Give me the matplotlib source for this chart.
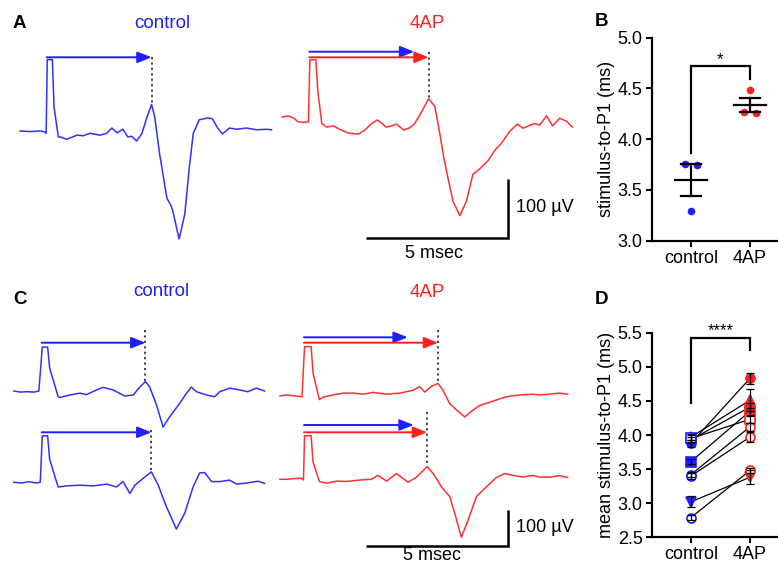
import numpy as np
import matplotlib
matplotlib.use("Agg")
import matplotlib.pyplot as plt

plt.rcParams["font.family"] = ["Liberation Sans", "DejaVu Sans"]

BLUE = "#1f1fff"
RED = "#ff2020"
TRACE_BLUE = "#3030ff"
TRACE_RED = "#ff3030"

# ---- evoked field potentials (ms from stimulus onset, uV from pre-stim baseline)
tA_ctrl = [-0.94, -0.59, -0.24, -0.10, -0.02, 0.02, 0.20, 0.26, 0.41, 0.47, 0.71, 1.07, 1.29, 1.52,
           1.88, 2.11, 2.30, 2.48, 2.69, 2.86, 3.00, 3.17, 3.36, 3.54, 3.70, 3.81, 3.98, 4.24, 4.38,
           4.45, 4.67, 4.87, 5.03, 5.17, 5.38, 5.67, 5.84, 6.03, 6.20, 6.45, 6.70, 7.05, 7.40, 7.75, 7.93]
vA_ctrl = [0, -1, 0, -1, -4, 121, 121, 40, -10, -10, -14, -7, -8, -4, -7, -4, 5, -3, 3, -10, -9,
           -17, -4, 24, 45, 24, -38, -114, -126, -136, -183, -141, -62, -4, 19, 22, 21, 5, -5, 5,
           3, 5, 2, 3, 2]

tA_4ap = [-0.96, -0.75, -0.54, -0.40, -0.19, -0.03, 0.02, 0.23, 0.30, 0.44, 0.61, 0.85, 1.08, 1.37,
          1.73, 1.96, 2.20, 2.39, 2.55, 2.70, 2.90, 3.08, 3.33, 3.55, 3.72, 3.96, 4.21, 4.43, 4.60,
          4.74, 4.89, 5.07, 5.31, 5.54, 5.77, 6.01, 6.30, 6.57, 6.77, 7.07, 7.34, 7.54, 7.77, 7.95,
          8.12, 8.37, 8.58, 8.83, 9.07, 9.28]
vA_4ap = [5, 7, 3, -3, -4, -3, 102, 102, 50, -6, -12, -10, -16, -22, -24, -17, -6, 0, -5, -12, -10,
          -7, -17, -13, -6, 14, 36, 23, -22, -63, -98, -138, -162, -138, -92, -83, -69, -50, -40,
          -19, -7, -14, -9, -6, -9, 7, -10, 3, -2, -12]

tC_ctrl1 = [-0.98, -0.76, -0.52, -0.27, -0.10, 0.02, 0.21, 0.28, 0.58, 0.64, 1.00, 1.35, 1.58, 1.94,
            2.17, 2.52, 2.93, 3.23, 3.46, 3.66, 3.81, 4.05, 4.28, 4.52, 4.87, 5.11, 5.28, 5.46, 5.81,
            6.10, 6.28, 6.63, 6.98, 7.27, 7.57, 7.86]
vC_ctrl1 = [0, -3, -2, -3, 0, 122, 122, 64, -16, -18, -11, -6, -10, 3, 10, 3, -14, -11, 11, 26, 11,
            -39, -100, -71, -34, -6, 11, -2, -11, -16, -2, 8, 3, -2, 8, 0]

tC_ctrl2 = [-0.98, -0.70, -0.45, -0.20, -0.05, 0.02, 0.21, 0.28, 0.58, 0.88, 1.35, 1.82, 2.29, 2.64,
            2.87, 3.11, 3.29, 3.58, 3.87, 4.11, 4.40, 4.75, 5.05, 5.34, 5.57, 5.75, 5.99, 6.28, 6.63,
            6.87, 7.22, 7.63, 7.86]
vC_ctrl2 = [0, -2, 2, -2, 0, 129, 129, 64, -13, -10, -8, -10, -5, -13, 2, -31, -8, 11, 29, -8, -68,
            -130, -85, -13, 26, 27, 2, 2, 6, -5, -2, 3, -3]

tC_4ap1 = [-0.85, -0.61, -0.32, -0.07, 0.02, 0.25, 0.32, 0.54, 0.68, 1.03, 1.38, 1.74, 2.09, 2.44,
           2.91, 3.38, 3.85, 4.08, 4.26, 4.50, 4.73, 4.90, 5.14, 5.38, 5.67, 5.90, 6.20, 6.49, 6.79,
           7.14, 7.61, 8.07, 8.31, 8.66, 9.01, 9.30]
vC_4ap1 = [0, 3, 0, -2, 137, 137, 64, -10, -3, 3, 8, 8, 5, 10, 5, 8, 16, 26, 11, 27, 35, 16, -21,
           -39, -58, -43, -26, -19, -11, -2, 3, 5, 3, 5, 8, 5]

tC_4ap2 = [-0.85, -0.60, -0.35, -0.10, -0.02, 0.02, 0.25, 0.32, 0.54, 0.80, 1.15, 1.50, 1.97, 2.38,
           2.61, 2.91, 3.26, 3.67, 3.97, 4.34, 4.56, 4.85, 5.14, 5.32, 5.55, 5.79, 6.08, 6.43, 6.79,
           7.08, 7.37, 7.72, 8.07, 8.31, 8.66, 9.01, 9.30]
vC_4ap2 = [0, 0, 2, 3, -2, 121, 121, 48, -6, -11, -5, -6, -2, 0, 11, -5, 16, -8, 6, 35, 16, -21,
           -48, -95, -161, -113, -48, -21, 5, 16, 11, 6, 11, 6, 6, 10, 5]

# stimulus-to-P1 latencies (ms) of the example traces
lat_A_ctrl, lat_A_4ap = 3.70, 4.21
lat_C_ctrl = [3.66, 3.87]
lat_C_4ap = [4.73, 4.34]

# ---- panel B: example slices
groups = ["control", "4AP"]
b_ctrl = [3.76, 3.75, 3.29]
b_4ap = [4.27, 4.26, 4.48]
b_jitter = [-0.1, 0.1, 0.0]

# ---- panel D: per-slice mean latency, paired
d_ctrl = [3.88, 3.97, 3.93, 3.61, 3.95, 3.42, 3.40, 3.02, 2.79]
d_4ap = [4.83, 4.51, 4.41, 4.35, 4.23, 4.12, 3.97, 3.38, 3.48]
d_ctrl_sem = [0.05, 0.05, 0.04, 0.04, 0.05, 0.04, 0.04, 0.08, 0.03]
d_4ap_sem = [0.08, 0.16, 0.06, 0.05, 0.05, 0.06, 0.07, 0.10, 0.04]
d_marker = ["o", "^", "D", "s", "s", "o", "o", "v", "o"]
d_filled = [True, True, True, True, False, False, False, True, False]

W, H = 778, 567
MS_PX = 28.35  # px per ms in both trace panels

fig = plt.figure(figsize=(W / 100, H / 100), dpi=100)


def fig_axes(left, top, width, height):
    return fig.add_axes([left / W, 1 - (top + height) / H, width / W, height / H])


def px2data(ax, x, y):
    pt = fig.transFigure.transform((x / W, 1 - y / H))
    return ax.transData.inverted().transform(pt)


def trace_axes(top, height, uv_px):
    ax = fig_axes(0, top, 590, height)
    ax.set_xlim(0, 590 / MS_PX)
    ax.set_ylim(-height / uv_px, 0)
    ax.axis("off")
    return ax


def draw_trace(ax, t, v, x0, y0, color, lat, arrows, dot_top):
    ox, oy = px2data(ax, x0, y0)
    t = np.asarray(t)
    v = np.asarray(v)
    ax.plot(ox + t, oy + v, color=color, lw=1.1, solid_joinstyle="round", zorder=2)
    for alat, acol, y_px in arrows:
        _, ay = px2data(ax, x0, y_px)
        ax.annotate("", xy=(ox + alat, ay), xytext=(ox, ay),
                    arrowprops=dict(arrowstyle="-|>,head_length=0.85,head_width=0.34",
                                    mutation_scale=10, lw=1.4, color=acol,
                                    shrinkA=0, shrinkB=0), zorder=3)
    _, dy = px2data(ax, x0, dot_top)
    ax.plot([ox + lat, ox + lat], [dy, oy + np.interp(lat, t, v)], color="#333333",
            lw=1.3, linestyle=(0, (1.2, 1.8)), zorder=1)


def scale_bar(ax, x_px, y_px, uv):
    cx, cy = px2data(ax, x_px, y_px)
    ax.plot([cx - 5, cx, cx], [cy, cy, cy + uv], color="black", lw=1.8,
            solid_joinstyle="miter", solid_capstyle="butt")


def ftext(x, y, s, **kw):
    fig.text(x / W, 1 - y / H, s, **kw)


# ---- A
axA = trace_axes(0, 275, 0.59)
draw_trace(axA, tA_ctrl, vA_ctrl, 46.7, 131, TRACE_BLUE, lat_A_ctrl,
           [(lat_A_ctrl, BLUE, 57.3)], 57.3)
draw_trace(axA, tA_4ap, vA_4ap, 309.3, 120, TRACE_RED, lat_A_4ap,
           [(lat_A_ctrl, BLUE, 51.7), (lat_A_4ap, RED, 57.3)], 51.7)
scale_bar(axA, 507.7, 238.3, 100)
ftext(434, 254, "5 msec", ha="center", va="center", fontsize=13)
ftext(516, 208, "100 µV", ha="left", va="center", fontsize=13)

# ---- C
axC = trace_axes(280, 287, 0.36)
draw_trace(axC, tC_ctrl1, vC_ctrl1, 41.7, 391, TRACE_BLUE, lat_C_ctrl[0],
           [(lat_C_ctrl[0], BLUE, 342.7)], 330)
draw_trace(axC, tC_ctrl2, vC_ctrl2, 41.7, 482.3, TRACE_BLUE, lat_C_ctrl[1],
           [(lat_C_ctrl[1], BLUE, 432.3)], 430)
draw_trace(axC, tC_4ap1, vC_4ap1, 304, 396, TRACE_RED, lat_C_4ap[0],
           [(lat_C_ctrl[0], BLUE, 337.3), (lat_C_4ap[0], RED, 342.7)], 330)
draw_trace(axC, tC_4ap2, vC_4ap2, 304, 479.3, TRACE_RED, lat_C_4ap[1],
           [(lat_C_ctrl[1], BLUE, 425), (lat_C_4ap[1], RED, 432.3)], 411.7)
scale_bar(axC, 507.7, 545.7, 100)
ftext(432, 555, "5 msec", ha="center", va="center", fontsize=13)
ftext(516, 527, "100 µV", ha="left", va="center", fontsize=13)

# titles and panel letters
ftext(162, 28.3, "control", color=BLUE, ha="center", va="baseline", fontsize=13.5)
ftext(427.5, 28.3, "4AP", color=RED, ha="center", va="baseline", fontsize=13.5)
ftext(161.5, 296, "control", color=BLUE, ha="center", va="baseline", fontsize=13.5)
ftext(427.5, 296.7, "4AP", color=RED, ha="center", va="baseline", fontsize=13.5)
for letter, x, y in [("A", 13, 28), ("B", 595, 25.5), ("C", 13, 303.5), ("D", 595, 303.5)]:
    ftext(x, y, letter, fontsize=13.5, fontweight="bold", va="baseline", ha="left")


def style_stats(ax, ylim, yticks):
    ax.set_xlim(-0.666, 1.475)
    ax.set_ylim(*ylim)
    ax.set_yticks(yticks)
    ax.set_yticklabels([f"{y:.1f}" for y in yticks])
    ax.set_xticks([0, 1])
    ax.set_xticklabels(groups)
    for side in ("top", "right"):
        ax.spines[side].set_visible(False)
    for side in ("left", "bottom"):
        ax.spines[side].set_linewidth(1.6)
    ax.tick_params(direction="out", length=4.5, width=1.5, labelsize=13, pad=2)
    ax.patch.set_alpha(0)


def bracket(ax, y_left, y_top, y_right, label, text_y, size):
    ax.plot([0, 0, 1, 1], [y_left, y_top, y_top, y_right], color="black", lw=1.6,
            solid_joinstyle="miter", clip_on=False)
    ax.text(0.5, text_y, label, ha="center", va="baseline", fontsize=size)


# ---- B
axB = fig_axes(651.7, 37.7, 126.3, 203)
style_stats(axB, (3.0, 5.0), np.arange(3.0, 5.01, 0.5))
axB.set_ylabel("stimulus-to-P1 (ms)", fontsize=13, labelpad=2)
for xi, (vals, col) in enumerate([(b_ctrl, BLUE), (b_4ap, RED)]):
    vals = np.asarray(vals)
    axB.plot(xi + np.asarray(b_jitter), vals, "o", color=col, ms=5.5, mec="none", zorder=2)
    m = vals.mean()
    sem = vals.std(ddof=1) / np.sqrt(len(vals))
    axB.plot([xi - 0.27, xi + 0.27], [m, m], color="black", lw=1.6, zorder=3)
    axB.plot([xi, xi], [m - sem, m + sem], color="black", lw=1.6, zorder=3)
    for yy in (m - sem, m + sem):
        axB.plot([xi - 0.17, xi + 0.17], [yy, yy], color="black", lw=1.6, zorder=3)
bracket(axB, 3.86, 4.72, 4.59, "*", 4.74, 12)

# ---- D
axD = fig_axes(651.7, 332.7, 126.3, 204.6)
style_stats(axD, (2.5, 5.5), np.arange(2.5, 5.51, 0.5))
axD.set_ylabel("mean stimulus-to-P1 (ms)", fontsize=13, labelpad=2)
for c, a, cs, as_, mk, fl in zip(d_ctrl, d_4ap, d_ctrl_sem, d_4ap_sem, d_marker, d_filled):
    axD.plot([0, 1], [c, a], color="black", lw=0.9, zorder=2)
    for xi, val, err, col in [(0, c, cs, BLUE), (1, a, as_, RED)]:
        axD.errorbar(xi, val, yerr=err, fmt="none", ecolor="black", elinewidth=0.9,
                     capsize=3, capthick=0.9, zorder=4)
        axD.plot(xi, val, marker=mk, ms=6.5 if mk != "D" else 5.5, color=col,
                 mfc=col if fl else "white", mec=col, mew=1.2, zorder=3, clip_on=False)
bracket(axD, 4.465, 5.42, 5.25, "****", 5.46, 12)

fig.savefig("out.png", dpi=100)
